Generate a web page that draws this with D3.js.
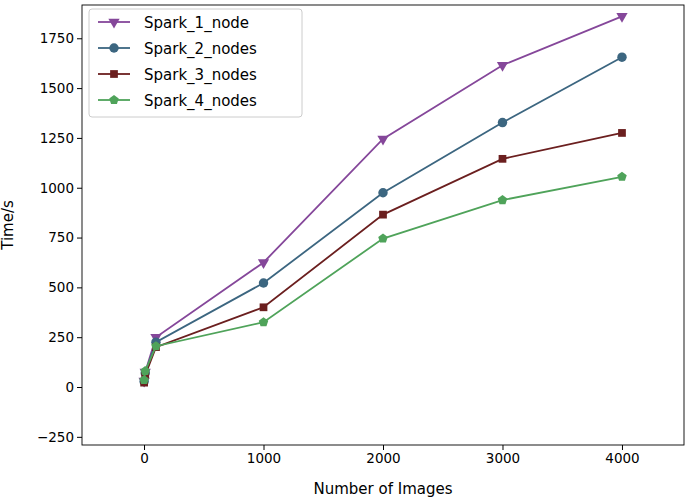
<!DOCTYPE html><html><head><meta charset="utf-8"><script src="https://cdn.jsdelivr.net/npm/d3@7"></script>
<style>body{margin:0;background:#fff}text{font-family:"DejaVu Sans",sans-serif}</style></head><body><svg id="c" width="685" height="499"></svg>
<script>
const xs=[1,10,100,1000,2000,3000,4000];
const seriesNames=["Spark_1_node","Spark_2_nodes","Spark_3_nodes","Spark_4_nodes"];
const s1=[30,75,250,625,1245,1615,1860];
const s2=[28,70,225,522,975,1327,1655];
const s3=[22,60,200,400,865,1145,1275];
const s4=[35,80,205,325,745,938,1055];
const xTicks=[0,1000,2000,3000,4000];
const yTicks=[-250,0,250,500,750,1000,1250,1500,1750];
const colors=["#85479a","#3c6680","#6b1f1f","#4fa35a"];
const shapes=[d3.symbolTriangle,d3.symbolCircle,d3.symbolSquare,"pent"];
const data=[s1,s2,s3,s4];
const svg=d3.select("#c");
const L=82,R=684,T=5,B=445;
const x=d3.scaleLinear().domain([-519,4519]).range([L,R]);
const y=d3.scaleLinear().domain([-291,1917]).range([B,T]);
const ax=svg.append("g").attr("transform",`translate(0,${B})`).call(d3.axisBottom(x).tickValues(xTicks).tickFormat(d3.format("d")).tickSizeOuter(0).tickSize(5));
const ay=svg.append("g").attr("transform",`translate(${L},0)`).call(d3.axisLeft(y).tickValues(yTicks).tickFormat(d=>d<0?"\u2212"+(-d):d).tickSizeOuter(0).tickSize(5));
[ax,ay].forEach(a=>{a.select(".domain").remove();a.selectAll("text").attr("font-size",13.5).attr("fill","#000");a.selectAll("line").attr("stroke","#000")});
svg.append("rect").attr("x",L).attr("y",T).attr("width",R-L).attr("height",B-T).attr("fill","none").attr("stroke","#000").attr("stroke-width",0.9);
svg.append("text").attr("x",383).attr("y",494).attr("text-anchor","middle").attr("font-size",15).text("Number of Images");
svg.append("text").attr("transform",`translate(13,${(T+B)/2}) rotate(-90)`).attr("text-anchor","middle").attr("font-size",15).text("Time/s");
function marker(g,i,cx,cy,sz){
  if(shapes[i]==="pent"){
    const r=5;const pts=d3.range(5).map(k=>{const a=-Math.PI/2+k*2*Math.PI/5;return[cx+r*Math.cos(a),cy+r*Math.sin(a)]});
    g.append("polygon").attr("points",pts.map(p=>p.join(",")).join(" ")).attr("fill",colors[i]);
  } else {
    const p=g.append("path").attr("d",d3.symbol(shapes[i],sz)()).attr("fill",colors[i]);
    p.attr("transform",`translate(${cx},${cy})`+(i===0?" rotate(180)":""));
  }
}
const sizes=[55,70,60,60];
data.forEach((s,i)=>{
  const g=svg.append("g");
  g.append("path").attr("d",d3.line().x((d,j)=>x(xs[j])).y(d=>y(d))(s)).attr("fill","none").attr("stroke",colors[i]).attr("stroke-width",1.8);
  s.forEach((d,j)=>marker(g,i,x(xs[j]),y(d),sizes[i]));
});
const lg=svg.append("g");
lg.append("rect").attr("x",89).attr("y",9).attr("width",213).attr("height",108).attr("rx",3).attr("fill","#fff").attr("fill-opacity",0.8).attr("stroke","#ccc");
seriesNames.forEach((n,i)=>{
  const yy=22+i*26;
  lg.append("line").attr("x1",98).attr("x2",130).attr("y1",yy).attr("y2",yy).attr("stroke",colors[i]).attr("stroke-width",1.8);
  marker(lg,i,114,yy,sizes[i]);
  lg.append("text").attr("x",144).attr("y",yy+5.5).attr("font-size",15).text(n);
});
</script></body></html>
